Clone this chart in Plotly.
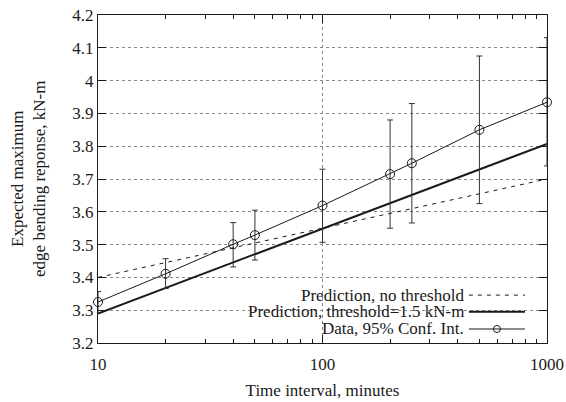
import plotly.graph_objects as go

# ---- data ----
time_min = [10, 20, 40, 50, 100, 200, 250, 500, 1000]
data_mean = [3.325, 3.411, 3.501, 3.529, 3.619, 3.715, 3.748, 3.850, 3.934]
data_upper = [3.357, 3.457, 3.567, 3.605, 3.730, 3.880, 3.930, 4.075, 4.131]
data_lower = [3.291, 3.366, 3.432, 3.453, 3.507, 3.550, 3.566, 3.625, 3.740]

pred_x = [10, 1000]
pred_no_threshold = [3.400, 3.700]
pred_threshold = [3.290, 3.807]

x_major = [10, 100, 1000]
x_minor = [20, 30, 40, 50, 60, 70, 80, 90, 200, 300, 400, 500, 600, 700, 800, 900]
y_ticks = [3.2, 3.3, 3.4, 3.5, 3.6, 3.7, 3.8, 3.9, 4.0, 4.1, 4.2]
y_ticktext = ["3.2", "3.3", "3.4", "3.5", "3.6", "3.7", "3.8", "3.9", "4", "4.1", "4.2"]

legend_labels = ["Prediction, no threshold", "Prediction, threshold=1.5 kN-m", "Data, 95% Conf. Int."]

FONT = "Liberation Serif, Times New Roman, serif"
INK = "#1a1a1a"
FS = 17

err_plus = [u - m for u, m in zip(data_upper, data_mean)]
err_minus = [m - l for m, l in zip(data_mean, data_lower)]

fig = go.Figure()

fig.add_trace(go.Scatter(
    x=pred_x, y=pred_no_threshold, mode="lines",
    line=dict(color=INK, width=1, dash="4px,5px"),
    name=legend_labels[0], showlegend=False))

fig.add_trace(go.Scatter(
    x=pred_x, y=pred_threshold, mode="lines",
    line=dict(color=INK, width=2),
    name=legend_labels[1], showlegend=False))

fig.add_trace(go.Scatter(
    x=time_min, y=data_mean, mode="lines+markers",
    line=dict(color=INK, width=1),
    marker=dict(symbol="circle-open", size=9, color=INK, line=dict(width=1, color=INK)),
    error_y=dict(type="data", symmetric=False, array=err_plus, arrayminus=err_minus,
                 color="#333", thickness=1, width=3),
    name=legend_labels[2], showlegend=False, cliponaxis=False))

# legend drawn gnuplot-style (text right, sample left)
px0, px1 = 0.826, 0.951
rows = [0.146, 0.0954, 0.0427]
shapes = [
    dict(type="rect", xref="paper", yref="paper", x0=0.111, x1=0.969, y0=0.004, y1=0.177,
         fillcolor="white", line=dict(width=0), layer="between"),
    dict(type="line", xref="paper", yref="paper", x0=px0, x1=px1, y0=rows[0], y1=rows[0],
         line=dict(color=INK, width=1, dash="4px,5px")),
    dict(type="line", xref="paper", yref="paper", x0=px0, x1=px1, y0=rows[1], y1=rows[1],
         line=dict(color=INK, width=2)),
    dict(type="line", xref="paper", yref="paper", x0=px0, x1=px1, y0=rows[2], y1=rows[2],
         line=dict(color=INK, width=1)),
    dict(type="circle", xref="paper", yref="paper", xsizemode="pixel", ysizemode="pixel",
         xanchor=(px0 + px1) / 2, yanchor=rows[2], x0=-3.5, x1=3.5, y0=-3.5, y1=3.5,
         line=dict(color=INK, width=1), fillcolor="rgba(0,0,0,0)"),
]
annotations = []
for lab, ry in zip(legend_labels, rows):
    annotations.append(dict(text=lab, xref="paper", yref="paper", x=0.817, y=ry,
                            xanchor="right", yanchor="middle", showarrow=False, borderpad=0,
                            font=dict(family=FONT, size=FS, color=INK)))
annotations.append(dict(text="Expected maximum<br>edge bending reponse, kN-m",
                        xref="paper", yref="paper", x=-0.156, y=0.5, textangle=-90,
                        xanchor="center", yanchor="middle", showarrow=False,
                        font=dict(family=FONT, size=FS, color=INK)))

fig.update_layout(
    width=566, height=402,
    margin=dict(l=98, r=19, t=15, b=59),
    paper_bgcolor="white", plot_bgcolor="white",
    font=dict(family=FONT, size=FS, color=INK),
    shapes=shapes, annotations=annotations, showlegend=False,
)

fig.update_xaxes(
    type="log", range=[1, 3], tickvals=x_major, ticktext=["10", "100", "1000"],
    ticks="inside", ticklen=8, tickcolor=INK, tickwidth=1, ticklabelstandoff=6,
    showline=True, linecolor=INK, linewidth=1, mirror="ticks",
    showgrid=True, gridcolor="#888", griddash="dot", gridwidth=1,
    minor=dict(tickvals=x_minor, ticks="inside", ticklen=4, tickcolor=INK, showgrid=False),
    zeroline=False, automargin=False,
    title=dict(text="Time interval, minutes", font=dict(family=FONT, size=FS, color=INK), standoff=10),
    tickfont=dict(family=FONT, size=FS, color=INK),
)
fig.update_yaxes(
    range=[3.2, 4.2], tickvals=y_ticks, ticktext=y_ticktext,
    ticks="inside", ticklen=8, tickcolor=INK, tickwidth=1,
    showline=True, linecolor=INK, linewidth=1, mirror="ticks",
    showgrid=True, gridcolor="#888", griddash="dot", gridwidth=1,
    zeroline=False, automargin=False, tickfont=dict(family=FONT, size=FS, color=INK),
)

fig.write_html("out.html", config={"displayModeBar": False},
               post_script="document.body.style.margin='0';document.body.style.overflow='hidden';")
